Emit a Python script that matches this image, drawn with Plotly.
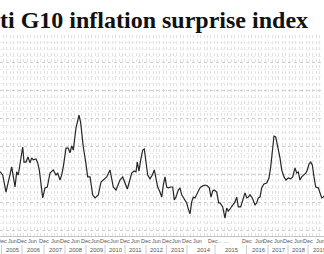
import plotly.graph_objects as go

# position along the (ordinal) time axis and index value
pos = [0, 2.7, 6, 8.3, 11.7, 15, 16.7, 18.3, 20.7, 22.7, 24, 26, 28, 30, 31.7, 33.3, 36, 37.7, 39.3,
       42.7, 45, 47.3, 50, 53.3, 56, 57.7, 60, 61.7, 63.3, 66, 68.3, 70, 71.7, 73.3, 76, 79, 80.7,
       83.3, 85.7, 87.7, 90, 92.7, 95, 98.3, 101, 103.3, 106.7, 110, 113.3, 116, 118.3,
       120, 122.7, 125, 127.3, 129.3, 131.7, 134, 136, 137.3, 139, 140.7, 142.7, 144.3, 146, 147.7,
       150, 152.3, 154.3, 156, 157.7, 160, 161.7, 163.3, 165, 166.7, 168.3, 170.7, 172.7, 174.3, 176,
       178.3, 180, 181.7, 183.3, 185, 186.7, 188.3, 190, 191.7, 193.3, 195, 197.3, 200, 202.7, 205,
       207.3, 209.3, 211, 212.7, 214.3, 216.7, 218.7, 220,
       222.7, 225, 226.7, 228.3, 230.7, 232.7, 235, 236.7, 238.3, 240.7, 242.7, 245, 246.7, 248.3,
       250, 252.3, 255, 256.7, 258.3, 260, 261.7, 264, 266.7, 269, 270.7, 272.3, 274, 275.7, 277.7,
       280, 281.7, 284, 286, 288.3, 290.7, 292.7, 295, 296.7, 298.3, 300, 301.7, 304, 306, 307.3,
       309, 310.7, 312.3, 314, 315.7, 318.3, 320, 321.7, 323.3, 324]
value = [1.2, 0, -6.1, -2.9, 2.9, -4.3, 1.1, 0, 5.4, 10.0, 4.6, 4.6, 6.4, 4.3, 6.1, 5.4, 5.7, 4.3, 1.8,
         -8.2, -4.6, -4.3, 0.7, 1.8, 0, 0.7, -1.8, 0, 2.9, 9.6, 9.6, 7.9, 10.4, 8.9, 16.8, 21.4, 18.6,
         10.0, 4.6, -0.7, -0.7, -7.1, -8.2, -7.1, -2.5, -1.8, -0.7, 1.8, -4.3, -5.4, -3.6,
         -1.8, -0.7, -2.9, -5.0, -2.5, 0.7, 1.4, 1.1, 4.6, 1.4, 5.4, 8.9, 9.3, 5.4, 0,
         -1.4, 0, 1.8, -0.7, -4.3, -6.1, -7.9, -3.6, -0.7, -4.3, -4.6, -4.3, -4.3, -8.9, -7.9,
         -5.4, -4.6, -7.1, -8.2, -8.9, -10.0, -12.1, -13.9, -9.6, -7.9, -8.2, -6.4, -4.6, -3.9, -3.6,
         -3.9, -4.6, -7.9, -5.7, -5.4, -6.1, -10.0, -10.0,
         -11.4, -15.4, -11.8, -12.9, -11.8, -10.7, -9.6, -7.9, -11.4, -11.4, -8.9, -6.4, -8.2, -7.9,
         -7.1, -8.2, -10.7, -10.0, -8.2, -7.9, -4.6, -3.2, -2.9, -1.1, 2.9, 8.2, 13.9, 13.6, 10.4,
         6.1, 1.8, -0.7, -1.8, -1.1, -1.4, -0.7, 2.5, 0.7, 1.1, -1.8, -0.7, 0, 0.7, 1.8,
         3.9, 4.6, 3.6, -0.7, -4.3, -4.6, -6.4, -8.2, -7.9, -7.5]

month_pos = [1.5, 12, 22, 32.5, 44, 55, 65, 75, 86, 95, 105, 114, 125, 135.5, 146, 156, 166.5, 176.5,
             187, 197, 215, 226, 246.5, 259, 268, 278, 288, 298, 308, 320]
month_text = ["Dec", "Jun", "Dec", "Jun", "Dec", "Jun", "Dec", "Jun", "Dec", "Jun", "Dec", "Jun",
              "Dec", "Jun", "Dec", "Jun", "Dec", "Jun", "Dec", "Jun", "Dec...", "...", "Dec", "Jun",
              "Dec", "Jun", "Dec", "Jun", "Dec", "Jun"]
year_pos = [12, 33, 55, 75, 96, 115, 135, 156, 177, 204, 231, 258, 278, 298, 319]
year_text = ["2005", "2006", "2007", "2008", "2009", "2010", "2011", "2012", "2013", "2014",
             "2015", "2016", "2017", "2018", "2019"]
year_sep = [1.5, 22, 44, 65, 86, 105, 125, 146, 166.5, 187, 215, 246.5, 268, 288, 308]

title = "Citi G10 inflation surprise index"

fig = go.Figure()
fig.add_trace(go.Scatter(x=pos, y=value, mode="lines",
                         line=dict(color="#262626", width=1.2), hoverinfo="skip"))

fig.update_layout(
    width=324, height=254,
    margin=dict(l=0, r=0, t=35, b=18),
    paper_bgcolor="white", plot_bgcolor="white",
    showlegend=False,
    xaxis=dict(range=[0, 324], showticklabels=False, ticks="", showgrid=False, zeroline=False,
               showline=True, linecolor="#c4c4c4", linewidth=1,
               minor=dict(showgrid=True, gridcolor="#e2e2e2", griddash="dot", gridwidth=1,
                          tick0=0, dtick=3.4)),
    yaxis=dict(range=[-21.8, 50], showticklabels=False, ticks="", zeroline=False,
               dtick=10, showgrid=True, gridcolor="#cdcdcd", griddash="dot", gridwidth=1,
               minor=dict(showgrid=True, gridcolor="#ececec", griddash="dot", dtick=2.5)),
)

for mp, mt in zip(month_pos, month_text):
    fig.add_annotation(x=mp, y=-5/201, xref="x", yref="paper", text=mt, showarrow=False,
                       font=dict(family="Liberation Sans", size=5.4, color="#555"),
                       xanchor="center", yanchor="middle", borderpad=0)
for yp, yt in zip(year_pos, year_text):
    fig.add_annotation(x=yp, y=-13.5/201, xref="x", yref="paper", text=yt, showarrow=False,
                       font=dict(family="Liberation Sans", size=5.8, color="#555"),
                       xanchor="center", yanchor="middle", borderpad=0)
for s in year_sep:
    fig.add_shape(type="line", x0=s, x1=s, y0=-9/201, y1=-18/201, xref="x", yref="paper",
                  line=dict(color="#cccccc", width=1))

fig.add_annotation(x=310/324, y=1 + 15/201, xref="paper", yref="paper", text=title,
                   showarrow=False, xanchor="right", yanchor="middle",
                   font=dict(family="Liberation Serif", size=24, color="#111", weight="bold"))

fig.write_html("out.html")
